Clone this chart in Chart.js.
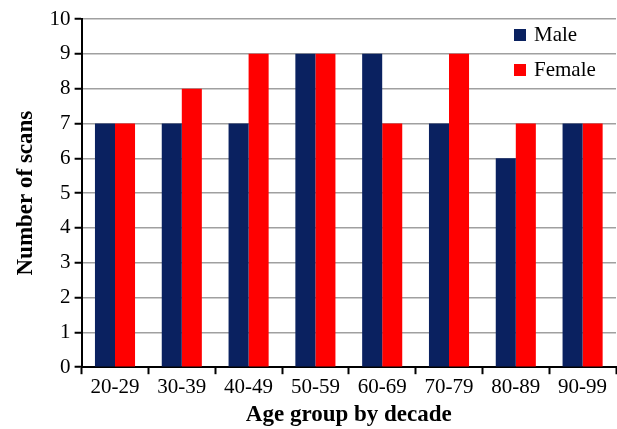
<!DOCTYPE html>
<html>
<head>
<meta charset="utf-8">
<script src="https://cdn.jsdelivr.net/npm/chart.js@4/dist/chart.umd.min.js"></script>
<style>
  html, body { margin: 0; padding: 0; background: #fff; }
  #wrap { width: 617px; height: 429px; }
</style>
</head>
<body>
<div id="wrap"><canvas id="scanChart" width="617" height="429"></canvas></div>
<script>
const ageGroups = ['20-29', '30-39', '40-49', '50-59', '60-69', '70-79', '80-89', '90-99'];
const maleScans = [7, 7, 7, 9, 9, 7, 6, 7];
const femaleScans = [7, 8, 9, 9, 7, 9, 7, 7];
const yTicks = [0, 1, 2, 3, 4, 5, 6, 7, 8, 9, 10];

const serif = '"Liberation Serif", "Times New Roman", serif';

// leyenda dentro del area del grafico, arriba a la derecha
const insideLegend = {
    id: 'insideLegend',
    afterDraw(chart) {
        const ctx = chart.ctx;
        const area = chart.chartArea;
        ctx.save();
        ctx.font = '21px ' + serif;
        ctx.textBaseline = 'middle';
        chart.data.datasets.forEach((ds, i) => {
            const x = area.right - 102;
            const y = area.top + 16 + i * 35;
            ctx.fillStyle = ds.backgroundColor;
            ctx.fillRect(x, y - 6, 12, 12);
            ctx.fillStyle = '#000';
            ctx.fillText(ds.label, x + 20, y);
        });
        ctx.restore();
    }
};

const ctx = document.getElementById('scanChart').getContext('2d');
new Chart(ctx, {
    type: 'bar',
    data: {
        labels: ageGroups,
        datasets: [
            {
                label: 'Male',
                data: maleScans,
                backgroundColor: '#0a2160',
                categoryPercentage: 0.6,
                barPercentage: 1.0
            },
            {
                label: 'Female',
                data: femaleScans,
                backgroundColor: '#ff0000',
                categoryPercentage: 0.6,
                barPercentage: 1.0
            }
        ]
    },
    options: {
        responsive: false,
        animation: false,
        layout: { padding: { top: 19, right: 1, left: 12, bottom: 0 } },
        plugins: {
            legend: { display: false },
            tooltip: { enabled: false }
        },
        scales: {
            x: {
                grid: {
                    drawOnChartArea: false,
                    tickColor: '#000',
                    tickLength: 7,
                    tickWidth: 2
                },
                border: { color: '#000', width: 2 },
                ticks: {
                    color: '#000',
                    padding: 1,
                    font: { family: serif, size: 21 }
                },
                title: {
                    display: true,
                    text: 'Age group by decade',
                    color: '#000',
                    padding: { top: 0, bottom: 0 },
                    font: { family: serif, size: 23, weight: 'bold' }
                }
            },
            y: {
                min: 0,
                max: 10,
                afterBuildTicks(axis) {
                    axis.ticks = yTicks.map(v => ({ value: v }));
                },
                grid: {
                    color: '#a0a0a0',
                    lineWidth: 1.5,
                    tickColor: '#000',
                    tickLength: 7,
                    tickWidth: 2
                },
                border: { color: '#000', width: 2 },
                ticks: {
                    color: '#000',
                    padding: 4,
                    font: { family: serif, size: 21 }
                },
                title: {
                    display: true,
                    text: 'Number of scans',
                    color: '#000',
                    padding: { top: 0, bottom: 6 },
                    font: { family: serif, size: 23, weight: 'bold' }
                }
            }
        }
    },
    plugins: [insideLegend]
});
</script>
</body>
</html>
